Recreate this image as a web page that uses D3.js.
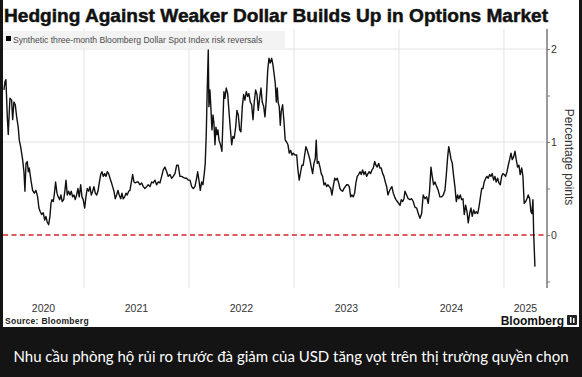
<!DOCTYPE html>
<html lang="vi">
<head>
  <meta charset="UTF-8">
  <title>Hedging Against Weaker Dollar Builds Up in Options Market</title>
  <script src="https://cdn.jsdelivr.net/npm/d3@7"></script>
  <style>
    body {
      margin: 0;
      background: #141414;
    }
    svg {
      display: block;
      font-family: "Liberation Sans", Arial, sans-serif;
    }
    .grid line {
      stroke: #e2e2e2;
      stroke-width: 1px;
    }
    .yr-label, .tick-label {
      font-size: 10.5px;
      fill: #333;
    }
  </style>
</head>
<body>
  <svg id="chart" width="582" height="377"></svg>

  <script>
    // decimal years
    const years = [
      2020.238, 2020.248, 2020.257, 2020.270, 2020.279, 2020.295, 2020.311, 2020.321, 2020.333, 2020.346,
      2020.359, 2020.374, 2020.384, 2020.397, 2020.416, 2020.429, 2020.438, 2020.448, 2020.460, 2020.470,
      2020.479, 2020.495, 2020.511, 2020.527, 2020.543, 2020.559, 2020.571, 2020.584, 2020.597, 2020.612,
      2020.626, 2020.638, 2020.650, 2020.664, 2020.676, 2020.686, 2020.695, 2020.708, 2020.717, 2020.730,
      2020.743, 2020.755, 2020.769, 2020.781, 2020.793, 2020.807, 2020.819, 2020.829, 2020.841, 2020.854,
      2020.867, 2020.879, 2020.892, 2020.905, 2020.917, 2020.930, 2020.943, 2020.955, 2020.969, 2020.981,
      2020.993, 2021.007, 2021.019, 2021.031, 2021.045, 2021.057, 2021.070, 2021.083, 2021.095, 2021.108,
      2021.121, 2021.133, 2021.146, 2021.159, 2021.171, 2021.184, 2021.197, 2021.210, 2021.222, 2021.235,
      2021.248, 2021.260, 2021.273, 2021.286, 2021.298, 2021.311, 2021.324, 2021.336, 2021.350, 2021.362,
      2021.374, 2021.388, 2021.400, 2021.412, 2021.426, 2021.438, 2021.450, 2021.464, 2021.476, 2021.489,
      2021.502, 2021.517, 2021.533, 2021.550, 2021.565, 2021.581, 2021.597, 2021.612, 2021.629, 2021.645,
      2021.660, 2021.676, 2021.692, 2021.708, 2021.724, 2021.740, 2021.755, 2021.771, 2021.788, 2021.803,
      2021.819, 2021.835, 2021.850, 2021.867, 2021.883, 2021.898, 2021.914, 2021.930, 2021.946, 2021.962,
      2021.978, 2021.993, 2022.010, 2022.026, 2022.041, 2022.057, 2022.073, 2022.083, 2022.095, 2022.108,
      2022.121, 2022.133, 2022.146, 2022.155, 2022.165, 2022.174, 2022.184, 2022.190, 2022.200, 2022.210,
      2022.219, 2022.229, 2022.238, 2022.248, 2022.257, 2022.267, 2022.276, 2022.286, 2022.295, 2022.305,
      2022.314, 2022.324, 2022.333, 2022.343, 2022.355, 2022.369, 2022.381, 2022.393, 2022.407, 2022.419,
      2022.431, 2022.445, 2022.457, 2022.470, 2022.483, 2022.495, 2022.508, 2022.521, 2022.533, 2022.546,
      2022.559, 2022.571, 2022.584, 2022.597, 2022.610, 2022.622, 2022.635, 2022.648, 2022.660, 2022.673,
      2022.686, 2022.698, 2022.712, 2022.724, 2022.736, 2022.750, 2022.762, 2022.774, 2022.788, 2022.800,
      2022.810, 2022.822, 2022.832, 2022.841, 2022.850, 2022.860, 2022.870, 2022.879, 2022.892, 2022.905,
      2022.917, 2022.930, 2022.943, 2022.955, 2022.969, 2022.981, 2022.993, 2023.010, 2023.026, 2023.038,
      2023.050, 2023.064, 2023.076, 2023.088, 2023.102, 2023.114, 2023.127, 2023.140, 2023.152, 2023.165,
      2023.178, 2023.190, 2023.203, 2023.212, 2023.222, 2023.235, 2023.248, 2023.260, 2023.273, 2023.286,
      2023.298, 2023.311, 2023.324, 2023.336, 2023.350, 2023.362, 2023.374, 2023.388, 2023.400, 2023.412,
      2023.426, 2023.438, 2023.450, 2023.464, 2023.476, 2023.489, 2023.502, 2023.514, 2023.527, 2023.540,
      2023.552, 2023.565, 2023.578, 2023.590, 2023.603, 2023.616, 2023.629, 2023.641, 2023.654, 2023.667,
      2023.679, 2023.692, 2023.705, 2023.717, 2023.730, 2023.743, 2023.755, 2023.769, 2023.781, 2023.793,
      2023.807, 2023.819, 2023.831, 2023.845, 2023.857, 2023.870, 2023.883, 2023.895, 2023.908, 2023.921,
      2023.933, 2023.946, 2023.959, 2023.971, 2023.984, 2023.997, 2024.010, 2024.022, 2024.035, 2024.048,
      2024.057, 2024.073, 2024.088, 2024.105, 2024.121, 2024.136, 2024.152, 2024.169, 2024.184, 2024.200,
      2024.216, 2024.231, 2024.248, 2024.264, 2024.279, 2024.292, 2024.305, 2024.317, 2024.330, 2024.343,
      2024.359, 2024.374, 2024.390, 2024.407, 2024.422, 2024.438, 2024.450, 2024.464, 2024.474, 2024.483,
      2024.495, 2024.508, 2024.521, 2024.533, 2024.546, 2024.559, 2024.571, 2024.584, 2024.597, 2024.610,
      2024.622, 2024.635, 2024.648, 2024.660, 2024.673, 2024.686, 2024.698, 2024.712, 2024.724, 2024.736,
      2024.750, 2024.762, 2024.774, 2024.788, 2024.800, 2024.812, 2024.826, 2024.838, 2024.850, 2024.864,
      2024.876, 2024.888, 2024.902, 2024.914, 2024.926, 2024.940, 2024.952, 2024.965, 2024.978, 2024.990,
      2025.003, 2025.016, 2025.029, 2025.041, 2025.054, 2025.067, 2025.079, 2025.092, 2025.105, 2025.117,
      2025.130, 2025.143, 2025.155, 2025.169, 2025.181, 2025.188, 2025.193, 2025.207, 2025.219, 2025.231,
      2025.245, 2025.257, 2025.267, 2025.276, 2025.283, 2025.289, 2025.295
    ];

    // risk reversals, percentage points
    const values = [
      1.56, 1.65, 1.67, 1.27, 1.08, 1.47, 1.45, 1.24, 1.43, 1.40,
      1.27, 1.16, 1.02, 0.95, 0.81, 0.67, 0.47, 0.77, 0.79, 0.68,
      0.72, 0.59, 0.48, 0.45, 0.48, 0.41, 0.29, 0.25, 0.22, 0.24,
      0.16, 0.20, 0.14, 0.11, 0.20, 0.34, 0.38, 0.36, 0.43, 0.57,
      0.45, 0.41, 0.38, 0.43, 0.36, 0.38, 0.48, 0.59, 0.43, 0.47,
      0.43, 0.47, 0.41, 0.43, 0.38, 0.43, 0.50, 0.41, 0.54, 0.41,
      0.38, 0.29, 0.41, 0.50, 0.47, 0.52, 0.43, 0.47, 0.52, 0.45,
      0.43, 0.47, 0.56, 0.65, 0.68, 0.63, 0.66, 0.63, 0.68, 0.66,
      0.61, 0.57, 0.52, 0.47, 0.39, 0.43, 0.48, 0.43, 0.39, 0.45,
      0.39, 0.41, 0.45, 0.43, 0.47, 0.48, 0.56, 0.65, 0.57, 0.56,
      0.57, 0.57, 0.54, 0.56, 0.52, 0.50, 0.52, 0.54, 0.52, 0.57,
      0.56, 0.59, 0.54, 0.57, 0.56, 0.63, 0.70, 0.73, 0.68, 0.63,
      0.65, 0.61, 0.63, 0.66, 0.75, 0.75, 0.63, 0.63, 0.62, 0.61,
      0.61, 0.59, 0.59, 0.52, 0.50, 0.52, 0.61, 0.68, 0.59, 0.48,
      0.57, 0.54, 0.66, 0.77, 1.09, 1.56, 1.99, 1.38, 1.56, 1.34,
      1.13, 1.29, 1.20, 0.97, 1.16, 1.08, 1.13, 1.02, 0.99, 0.95,
      0.90, 1.24, 1.54, 1.47, 1.58, 1.52, 1.33, 1.16, 0.97, 1.06,
      1.04, 1.16, 1.34, 1.29, 1.13, 1.11, 1.38, 1.51, 1.45, 1.54,
      1.49, 1.52, 1.43, 1.40, 1.24, 1.43, 1.56, 1.51, 1.34, 1.47,
      1.58, 1.43, 1.38, 1.27, 1.45, 1.77, 1.90, 1.85, 1.90, 1.83,
      1.74, 1.63, 1.43, 1.58, 1.42, 1.38, 1.18, 1.33, 1.40, 1.22,
      1.02, 1.00, 0.97, 0.88, 0.91, 0.86, 0.88, 0.86, 0.86, 0.70,
      0.59, 0.68, 0.75, 0.75, 0.86, 0.95, 0.91, 0.86, 0.81, 0.73,
      0.66, 0.77, 0.82, 1.02, 0.77, 0.79, 0.73, 0.66, 0.63, 0.54,
      0.56, 0.52, 0.54, 0.52, 0.50, 0.43, 0.52, 0.61, 0.59, 0.61,
      0.56, 0.50, 0.48, 0.47, 0.50, 0.52, 0.54, 0.54, 0.52, 0.41,
      0.43, 0.41, 0.45, 0.56, 0.63, 0.65, 0.68, 0.65, 0.70, 0.65,
      0.68, 0.63, 0.66, 0.68, 0.66, 0.70, 0.72, 0.79, 0.75, 0.73,
      0.77, 0.72, 0.72, 0.66, 0.63, 0.57, 0.52, 0.43, 0.47, 0.50,
      0.52, 0.45, 0.41, 0.38, 0.36, 0.34, 0.32, 0.38, 0.36, 0.39,
      0.47, 0.43, 0.39, 0.38, 0.39, 0.36, 0.30, 0.29, 0.23, 0.18,
      0.23, 0.43, 0.39, 0.41, 0.34, 0.48, 0.73, 0.63, 0.54, 0.57,
      0.52, 0.48, 0.41, 0.41, 0.43, 0.48, 0.63, 0.84, 0.95, 0.90,
      0.82, 0.77, 0.63, 0.52, 0.36, 0.43, 0.39, 0.43, 0.38, 0.39,
      0.22, 0.32, 0.25, 0.13, 0.23, 0.29, 0.20, 0.27, 0.23, 0.25,
      0.23, 0.30, 0.39, 0.50, 0.50, 0.57, 0.61, 0.63, 0.61, 0.65,
      0.63, 0.66, 0.59, 0.63, 0.57, 0.61, 0.56, 0.54, 0.63, 0.66,
      0.65, 0.63, 0.68, 0.75, 0.81, 0.88, 0.81, 0.84, 0.90, 0.81,
      0.73, 0.75, 0.65, 0.72, 0.63, 0.45, 0.34, 0.36, 0.39, 0.43,
      0.39, 0.25, 0.23, 0.38, 0.02, -0.16, -0.34
    ];

    const yearTicks = [2020, 2021, 2022, 2023, 2024, 2025];
    const yLabelTicks = [0, 1, 2];
    const yAllTicks = [-0.5, 0, 0.5, 1, 1.5, 2];

    const svg = d3.select("#chart");
    const W = 582, H = 377;

    // white card + dark caption band
    svg.append("rect").attr("width", W).attr("height", H).attr("fill", "#141414");
    svg.append("rect").attr("x", 3).attr("y", 0).attr("width", 576).attr("height", 327).attr("fill", "#fff");

    const plot = {left: 3, right: 547, top: 29, bottom: 288};

    const x = d3.scaleLinear().domain([2020.229, 2025.41]).range([plot.left, plot.right]);
    const y = d3.scaleLinear().domain([-0.57, 2.215]).range([plot.bottom, plot.top]);

    // grid
    const grid = svg.append("g").attr("class", "grid");
    grid.selectAll(".vg")
      .data(yearTicks.filter(d => x(d) > plot.left))
      .join("line")
      .attr("x1", d => x(d)).attr("x2", d => x(d))
      .attr("y1", plot.top).attr("y2", plot.bottom);
    grid.selectAll(".hg")
      .data([1, 2])
      .join("line")
      .attr("x1", plot.left).attr("x2", plot.right)
      .attr("y1", d => y(d)).attr("y2", d => y(d));

    // legend box
    svg.append("rect")
      .attr("x", 3).attr("y", 31).attr("width", 282).attr("height", 17)
      .attr("fill", "#f2f2f2").attr("opacity", 0.9);
    svg.append("rect")
      .attr("x", 6).attr("y", 36).attr("width", 5).attr("height", 5)
      .attr("fill", "#000");
    svg.append("text")
      .attr("x", 13).attr("y", 42.5)
      .attr("font-size", 8.6)
      .attr("fill", "#4a4a4a")
      .text("Synthetic three-month Bloomberg Dollar Spot Index risk reversals");

    // zero line
    svg.append("line")
      .attr("x1", plot.left).attr("x2", plot.right)
      .attr("y1", y(0)).attr("y2", y(0))
      .attr("stroke", "#d3242b")
      .attr("stroke-width", 1.4)
      .attr("stroke-dasharray", "5,3.5");

    // series
    const pts = years.map((t, i) => ({t, v: values[i]}));
    const line = d3.line().x(d => x(d.t)).y(d => y(d.v));
    svg.append("path")
      .datum(pts)
      .attr("d", line)
      .attr("fill", "none")
      .attr("stroke", "#111")
      .attr("stroke-width", 1.4)
      .attr("stroke-linejoin", "round");

    // right axis
    const axis = d3.axisRight(y)
      .tickValues(yAllTicks)
      .tickSize(3)
      .tickFormat(d => yLabelTicks.includes(d) ? d3.format("d")(d) : "");
    const ax = svg.append("g")
      .attr("transform", `translate(${plot.right},0)`)
      .call(axis);
    ax.select(".domain").attr("stroke", "#9a9a9a").attr("stroke-width", 2)
      .attr("d", `M0,${plot.top}V${plot.bottom}`);
    ax.selectAll(".tick line").attr("stroke", "#777");
    ax.selectAll(".tick text")
      .attr("x", 4)
      .attr("font-size", 10.5)
      .attr("font-family", "Liberation Sans, Arial, sans-serif")
      .attr("fill", "#333");

    svg.append("text")
      .attr("transform", `translate(565,157) rotate(90)`)
      .attr("text-anchor", "middle")
      .attr("font-size", 12)
      .attr("fill", "#333")
      .text("Percentage points");

    // year labels centred on the visible part of each year
    const [d0, d1] = x.domain();
    svg.selectAll(".yr-label")
      .data(yearTicks)
      .join("text")
      .attr("class", "yr-label")
      .attr("text-anchor", "middle")
      .attr("x", d => x((Math.max(d, d0) + Math.min(d + 1, d1)) / 2))
      .attr("y", 312)
      .text(d => d);

    // title
    svg.append("text")
      .attr("x", 4).attr("y", 22)
      .attr("font-size", 19)
      .attr("font-weight", "bold")
      .attr("fill", "#111")
      .attr("stroke", "#111")
      .attr("stroke-width", 0.5)
      .attr("textLength", 544)
      .attr("lengthAdjust", "spacingAndGlyphs")
      .text("Hedging Against Weaker Dollar Builds Up in Options Market");

    // footer
    svg.append("text")
      .attr("x", 5).attr("y", 323.5)
      .attr("font-size", 8.5)
      .attr("font-weight", "bold")
      .attr("letter-spacing", 0.3)
      .attr("fill", "#222")
      .text("Source: Bloomberg");

    svg.append("text")
      .attr("x", 564).attr("y", 325)
      .attr("text-anchor", "end")
      .attr("font-size", 12)
      .attr("font-weight", "bold")
      .attr("fill", "#111")
      .text("Bloomberg");
    svg.append("rect")
      .attr("x", 567).attr("y", 315).attr("width", 10).attr("height", 10).attr("rx", 1)
      .attr("fill", "#222");
    svg.append("rect")
      .attr("x", 570).attr("y", 317).attr("width", 1.5).attr("height", 6).attr("fill", "#fff");
    svg.append("rect")
      .attr("x", 573).attr("y", 318).attr("width", 1.5).attr("height", 5).attr("fill", "#fff");

    // caption
    svg.append("text")
      .attr("x", 291).attr("y", 362)
      .attr("text-anchor", "middle")
      .attr("font-family", "Lato, 'Noto Sans', sans-serif")
      .attr("font-size", 15)
      .attr("fill", "#fff")
      .attr("textLength", 555)
      .attr("lengthAdjust", "spacingAndGlyphs")
      .text("Nhu cầu phòng hộ rủi ro trước đà giảm của USD tăng vọt trên thị trường quyền chọn");
  </script>
</body>
</html>
